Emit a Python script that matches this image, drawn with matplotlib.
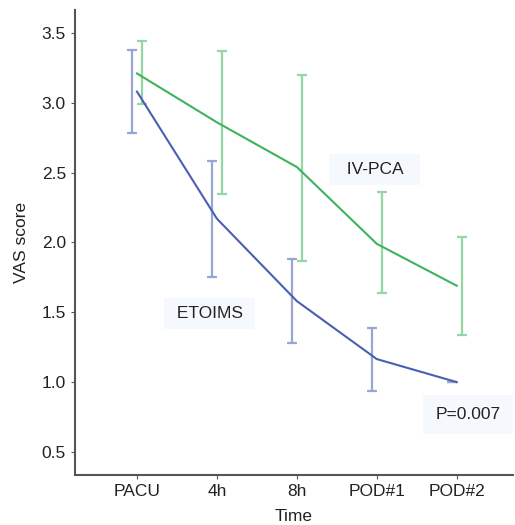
import numpy as np
import matplotlib.pyplot as plt

plt.rcParams['font.family'] = ['Liberation Sans', 'DejaVu Sans']

time_labels = ['PACU', '4h', '8h', 'POD#1', 'POD#2']

etoims_mean = [3.08, 2.17, 1.58, 1.165, 1.00]
etoims_low = [2.78, 1.75, 1.28, 0.94, 1.00]
etoims_high = [3.38, 2.58, 1.88, 1.39, 1.00]

ivpca_mean = [3.21, 2.86, 2.54, 1.99, 1.69]
ivpca_low = [2.99, 2.35, 1.87, 1.64, 1.34]
ivpca_high = [3.44, 3.37, 3.20, 2.36, 2.04]

x = np.arange(1, len(time_labels) + 1)
shift = 0.0625

fig = plt.figure(figsize=(5.15, 5.25), dpi=100)
ax = fig.add_axes([0.1456, 0.0952, 0.85, 0.886])

blue_line, blue_err = '#4a5fb0', '#97a6d6'
green_line, green_err = '#3fb35c', '#95d6a5'

def draw_group(mean, low, high, c_line, c_err, dx):
    mean = np.array(mean)
    yerr = [mean - np.array(low), np.array(high) - mean]
    ax.errorbar(x + dx, mean, yerr=yerr, fmt='none', ecolor=c_err,
                elinewidth=1.6, capsize=3.6, capthick=1.6, zorder=2)
    ax.plot(x, mean, color=c_line, lw=1.5, zorder=3)

draw_group(etoims_mean, etoims_low, etoims_high, blue_line, blue_err, -shift)
draw_group(ivpca_mean, ivpca_low, ivpca_high, green_line, green_err, shift)

box = dict(boxstyle='square,pad=0.45', fc='#f5f9fe', ec='none')
ax.text(3.97, 2.52, '  IV-PCA  ', fontsize=12.5, ha='center', va='center', color='#222222', bbox=box, zorder=1)
ax.text(1.91, 1.49, ' ETOIMS ', fontsize=12.5, ha='center', va='center', color='#222222', bbox=box, zorder=1)
ax.text(5.14, 0.77, 'P=0.007', fontsize=12.5, ha='center', va='center', color='#222222',
        bbox=dict(boxstyle='square,pad=0.7', fc='#f5f9fe', ec='none'), zorder=1)

ax.set_xlim(0.225, 5.7)
ax.set_ylim(0.335, 3.665)
ax.set_xticks(x)
ax.set_xticklabels(time_labels)
ax.set_yticks([0.5, 1.0, 1.5, 2.0, 2.5, 3.0, 3.5])
ax.set_yticklabels(['0.5', '1.0', '1.5', '2.0', '2.5', '3.0', '3.5'])
ax.tick_params(labelsize=12.5, colors='#222222', length=3, color='#555555')
ax.set_xlabel('Time', fontsize=12.5, color='#222222', labelpad=7)
ax.set_ylabel('VAS score', fontsize=12.5, color='#222222', labelpad=9)
for s in ['top', 'right']:
    ax.spines[s].set_visible(False)
for s in ['left', 'bottom']:
    ax.spines[s].set_color('#555555')
    ax.spines[s].set_linewidth(1.5)

fig.savefig('out.png', dpi=100)
